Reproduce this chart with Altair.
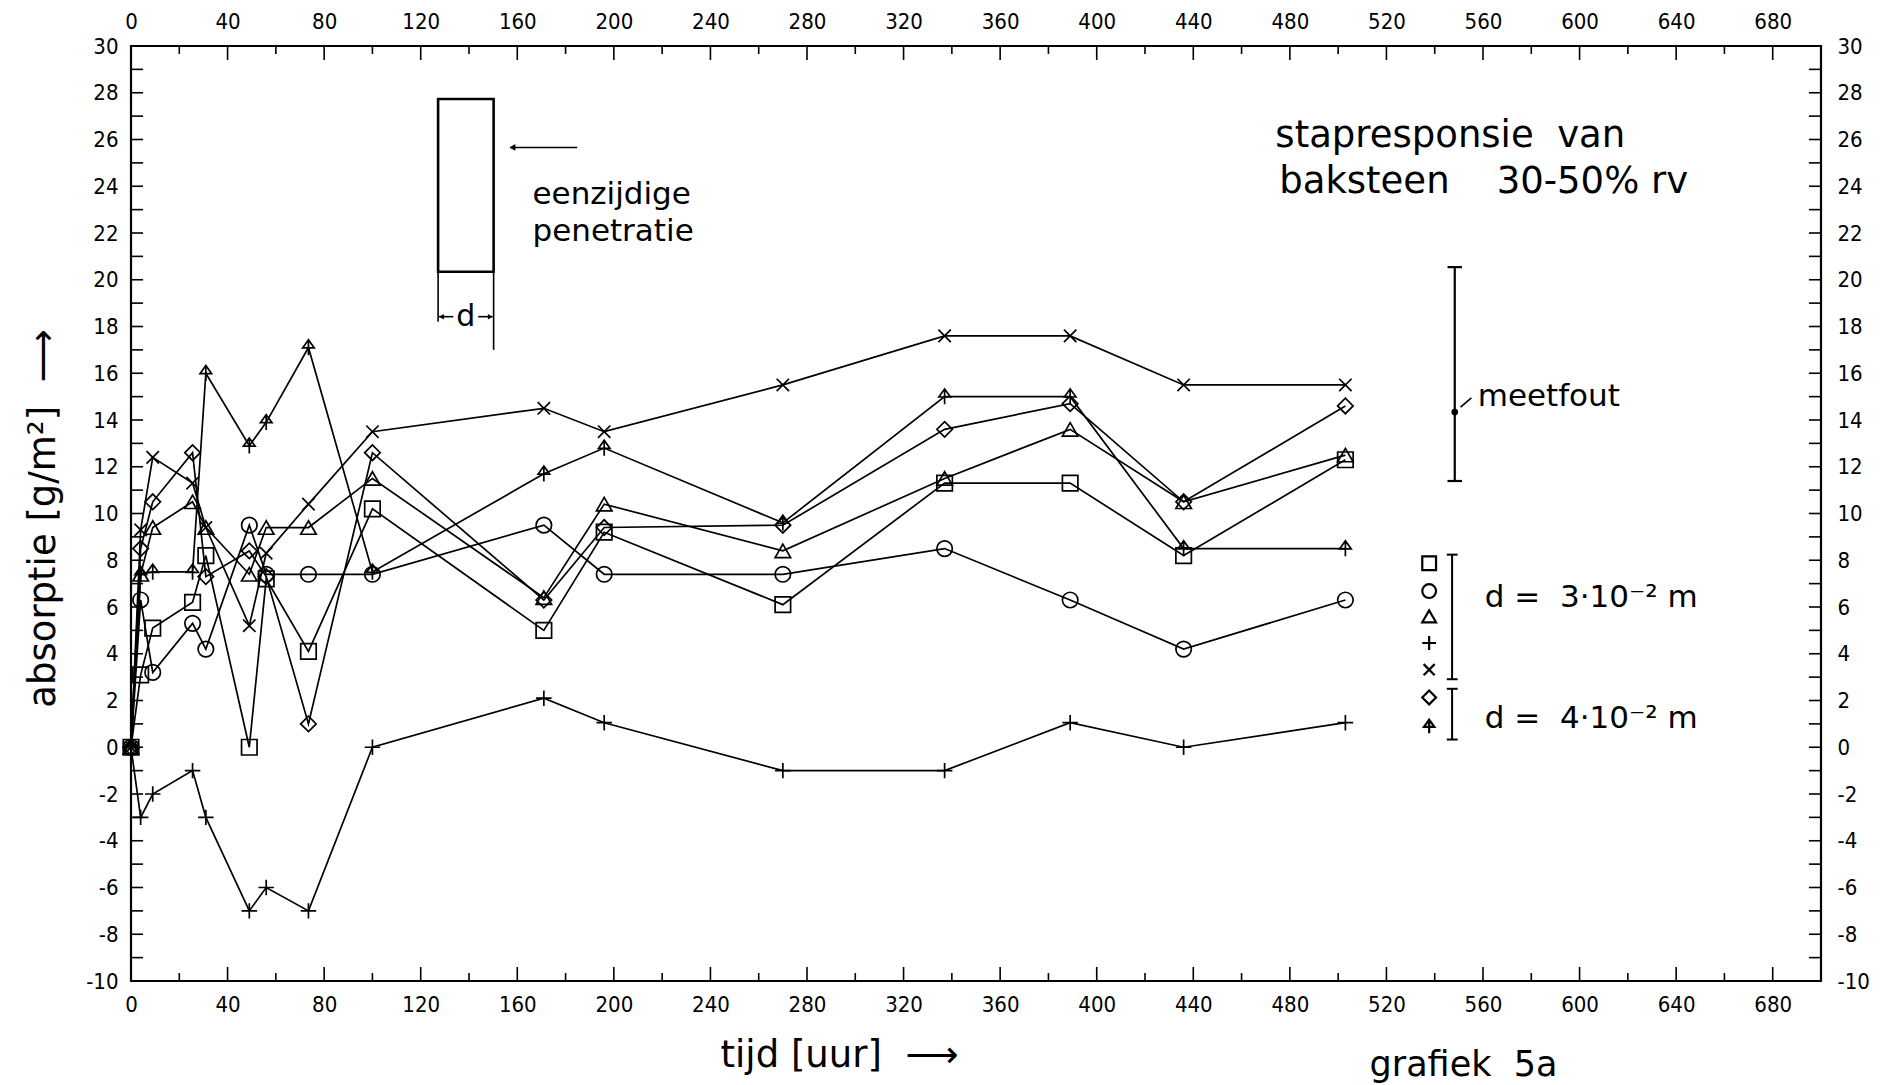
import altair as alt
import pandas as pd

# ---------------- data ----------------
series_names = ["square", "circle", "triangle", "plus", "cross", "diamond", "arrow"]
time_h = [0, 4, 9, 25.5, 31, 49, 56, 73.5, 100, 171, 196, 270, 337, 389, 436, 503]

sq_vals    = [0, 3.1, 5.1, 6.2, 8.2, 0.0, 7.2, 4.1, 10.2, 5.0, 9.2, 6.1, 11.3, 11.3, 8.2, 12.3]
circ_vals  = [0, 6.3, 3.2, 5.3, 4.2, 9.5, 7.4, 7.4, 7.4, 9.5, 7.4, 7.4, 8.5, 6.3, 4.2, 6.3]
tri_vals   = [0, 7.4, 9.4, 10.5, 9.4, 7.4, 9.4, 9.4, 11.5, 6.4, 10.4, 8.4, 11.5, 13.6, 10.5, 12.5]
plus_vals  = [0, -3.0, -2.0, -1.0, -3.0, -7.0, -6.0, -7.0, 0.0, 2.1, 1.05, -1.0, -1.0, 1.05, 0.0, 1.05]
cross_vals = [0, 9.3, 12.4, 11.3, 9.4, 5.2, 8.3, 10.4, 13.5, 14.5, 13.5, 15.5, 17.6, 17.6, 15.5, 15.5]
diam_vals  = [0, 8.5, 10.5, 12.6, 7.3, 8.4, 7.3, 1.0, 12.6, 6.3, 9.4, 9.5, 13.6, 14.7, 10.5, 14.6]
arrow_vals = [0, 7.4, 7.5, 7.5, 16.0, 12.9, 13.9, 17.1, 7.5, 11.7, 12.8, 9.6, 15.0, 15.0, 8.5, 8.5]

x_label_values = list(range(0, 681, 40))
y_label_values = list(range(-10, 31, 2))
x_tick_values = list(range(0, 701, 20))
y_tick_values = list(range(-10, 31, 1))

# legend key column (symbol list on the right)
legend_v = [7.87, 6.68, 5.6, 4.46, 3.32, 2.13, 0.89]

# ---------------- build tables ----------------
all_vals = [sq_vals, circ_vals, tri_vals, plus_vals, cross_vals, diam_vals, arrow_vals]
rows = []
for name, vals in zip(series_names, all_vals):
    for t, v in zip(time_h, vals):
        rows.append({"series": name, "t": t, "v": v})
df = pd.DataFrame(rows)

shape_paths = [
    "square",
    "circle",
    "triangle-up",
    "M-1,0L1,0M0,-1L0,1",
    "M-0.8,-0.8L0.8,0.8M-0.8,0.8L0.8,-0.8",
    "diamond",
    "M0,1L0,-1M-0.75,0.05L0,-1L0.75,0.05Z",
]

XMIN, XMAX, YMIN, YMAX = 0, 700, -10, 30
xs = alt.Scale(domain=[XMIN, XMAX], nice=False, zero=False)
ys = alt.Scale(domain=[YMIN, YMAX], nice=False, zero=False)
shape_scale = alt.Scale(domain=series_names, range=shape_paths)

LABEL_FONT = "Liberation Sans Narrow, DejaVu Sans Condensed, Liberation Sans"
TEXT_FONT = "DejaVu Sans"
NB = "\u00a0"

# ---------------- tick marks (inward) ----------------
tick_rows = []
for t in x_tick_values:
    L = 0.6 if t % 40 == 0 else 0.34
    tick_rows.append({"t": t, "t2": t, "v": YMIN, "v2": YMIN + L, "w": 1.6})
    tick_rows.append({"t": t, "t2": t, "v": YMAX, "v2": YMAX - L, "w": 1.6})
for v in y_tick_values:
    tick_rows.append({"t": XMIN, "t2": XMIN + 5, "v": v, "v2": v, "w": 1.6})
    tick_rows.append({"t": XMAX, "t2": XMAX - 5, "v": v, "v2": v, "w": 1.6})
ticks_df = pd.DataFrame(tick_rows)

# ---------------- annotation geometry ----------------
seg_rows = [
    # sample box verticals extending below
    {"t": 127.2, "t2": 127.2, "v": 20.34, "v2": 18.2, "w": 1.6},
    {"t": 150.2, "t2": 150.2, "v": 20.34, "v2": 17.0, "w": 1.6},
    # d dimension arrows
    {"t": 127.6, "t2": 133.5, "v": 18.42, "v2": 18.42, "w": 1.6},
    {"t": 143.8, "t2": 149.8, "v": 18.42, "v2": 18.42, "w": 1.6},
    # penetration arrow
    {"t": 157.0, "t2": 184.8, "v": 25.66, "v2": 25.66, "w": 1.6},
    # measurement error bar
    {"t": 548.3, "t2": 548.3, "v": 11.39, "v2": 20.54, "w": 2.2},
    {"t": 545.3, "t2": 551.3, "v": 20.54, "v2": 20.54, "w": 2.2},
    {"t": 545.3, "t2": 551.3, "v": 11.39, "v2": 11.39, "w": 2.2},
    {"t": 550.7, "t2": 555.2, "v": 14.55, "v2": 14.95, "w": 1.6},
    # legend brackets
    {"t": 547.2, "t2": 547.2, "v": 2.91, "v2": 8.24, "w": 2.0},
    {"t": 545.0, "t2": 549.5, "v": 8.24, "v2": 8.24, "w": 2.0},
    {"t": 545.0, "t2": 549.5, "v": 2.91, "v2": 2.91, "w": 2.0},
    {"t": 547.2, "t2": 547.2, "v": 0.33, "v2": 2.5, "w": 2.0},
    {"t": 545.0, "t2": 549.5, "v": 2.5, "v2": 2.5, "w": 2.0},
    {"t": 545.0, "t2": 549.5, "v": 0.33, "v2": 0.33, "w": 2.0},
]
seg_df = pd.DataFrame(seg_rows)

box_df = pd.DataFrame([{"t": 127.2, "t2": 150.2, "v": 20.34, "v2": 27.73}])

heads_df = pd.DataFrame([
    {"t": 128.6, "v": 18.42, "shape": "triangle-left", "s": 30},
    {"t": 148.8, "v": 18.42, "shape": "triangle-right", "s": 30},
    {"t": 158.0, "v": 25.66, "shape": "triangle-left", "s": 45},
    {"t": 548.3, "v": 14.34, "shape": "circle", "s": 45},
])

legend_df = pd.DataFrame({"series": series_names, "t": [537.7] * 7, "v": legend_v})

# ---------------- layers ----------------
def enc_xy(axis_x=None, axis_y=None):
    return dict(
        x=alt.X("t:Q", scale=xs, axis=axis_x, title=None),
        y=alt.Y("v:Q", scale=ys, axis=axis_y, title=None),
    )

common_label = dict(
    domain=False, ticks=False, grid=False, labelFlush=False, labelOverlap=False,
    labelFont=LABEL_FONT, labelFontSize=22, labelColor="black",
    labelExpr="toString(datum.value)",
)

bottom_axis = alt.Axis(
    orient="bottom", values=x_label_values, labelPadding=13, **common_label,
    title="tijd [uur]" + NB * 2 + "⟶", titleFont=TEXT_FONT, titleFontSize=37, titleFontWeight="normal",
    titleColor="black", titleX=708, titleY=74, titleAnchor="middle",
    titleAlign="center", titleBaseline="middle",
)
left_axis = alt.Axis(
    orient="left", values=y_label_values, labelPadding=13, **common_label,
    title="absorptie [g/m²]" + NB * 2 + "⟶", titleFont=TEXT_FONT, titleFontSize=37, titleFontWeight="normal",
    titleColor="black", titleAngle=270, titleX=-88, titleY=472,
    titleAlign="center", titleBaseline="middle",
)
top_axis = alt.Axis(
    orient="top", values=x_label_values, labelPadding=13, title=None, **common_label,
)
right_axis = alt.Axis(
    orient="right", values=y_label_values, labelPadding=16, title=None, **common_label,
)

lines = alt.Chart(df).mark_line(color="black", strokeWidth=1.7).encode(
    x=alt.X("t:Q", scale=xs, axis=bottom_axis),
    y=alt.Y("v:Q", scale=ys, axis=left_axis),
    detail="series:N",
    order="t:Q",
)

points = alt.Chart(df).mark_point(filled=False, color="black", strokeWidth=1.7, size=240, opacity=1).encode(
    x=alt.X("t:Q", scale=xs, axis=top_axis),
    y=alt.Y("v:Q", scale=ys, axis=right_axis),
    shape=alt.Shape("series:N", scale=shape_scale, legend=None),
)

ticks = alt.Chart(ticks_df).mark_rule(color="black").encode(
    **enc_xy(), x2="t2:Q", y2="v2:Q", strokeWidth=alt.StrokeWidth("w:Q", scale=None)
)

segs = alt.Chart(seg_df).mark_rule(color="black").encode(
    **enc_xy(), x2="t2:Q", y2="v2:Q", strokeWidth=alt.StrokeWidth("w:Q", scale=None)
)

box = alt.Chart(box_df).mark_rect(fill=None, stroke="black", strokeWidth=2.6).encode(
    **enc_xy(), x2="t2:Q", y2="v2:Q"
)

heads = alt.Chart(heads_df).mark_point(filled=True, color="black", opacity=1).encode(
    **enc_xy(),
    shape=alt.Shape("shape:N", scale=None),
    size=alt.Size("s:Q", scale=None),
)

legend_pts = alt.Chart(legend_df).mark_point(filled=False, color="black", strokeWidth=2.2, size=190, opacity=1).encode(
    **enc_xy(),
    shape=alt.Shape("series:N", scale=shape_scale, legend=None),
)


def txt(rows_, size, align="left", baseline="alphabetic"):
    d = pd.DataFrame(rows_)
    return alt.Chart(d).mark_text(
        align=align, baseline=baseline, fontSize=size, font=TEXT_FONT, color="black"
    ).encode(**enc_xy(), text="label:N")


texts = [
    txt([{"t": 474.0, "v": 25.7, "label": "stapresponsie" + NB * 2 + "van"},
         {"t": 475.6, "v": 23.7, "label": "baksteen" + NB * 4 + "30-50%" + NB + "rv"}], 37),
    txt([{"t": 166.3, "v": 23.25, "label": "eenzijdige"},
         {"t": 166.3, "v": 21.65, "label": "penetratie"}], 31),
    txt([{"t": 138.7, "v": 18.42, "label": "d"}], 30, align="center", baseline="middle"),
    txt([{"t": 557.8, "v": 14.6, "label": "meetfout"}], 31),
    txt([{"t": 560.7, "v": 6.0, "label": "d" + NB + "=" + NB * 2 + "3·10⁻²" + NB + "m"},
         {"t": 560.7, "v": 0.84, "label": "d" + NB + "=" + NB * 2 + "4·10⁻²" + NB + "m"}], 31),
    txt([{"t": 513.0, "v": -14.05, "label": "grafiek" + NB * 2 + "5a"}], 35),
]

chart = alt.layer(
    lines, points, ticks, box, segs, heads, legend_pts, *texts
).resolve_axis(
    x="independent", y="independent"
).properties(
    width=1690,
    height=935,
    padding={"left": 131, "top": 46, "right": 74, "bottom": 104},
    autosize=alt.AutoSizeParams(type="none"),
    background="white",
).configure_view(
    stroke="black", strokeWidth=2.2
)

chart.save("out.html", embed_options={"renderer": "svg", "actions": False})
